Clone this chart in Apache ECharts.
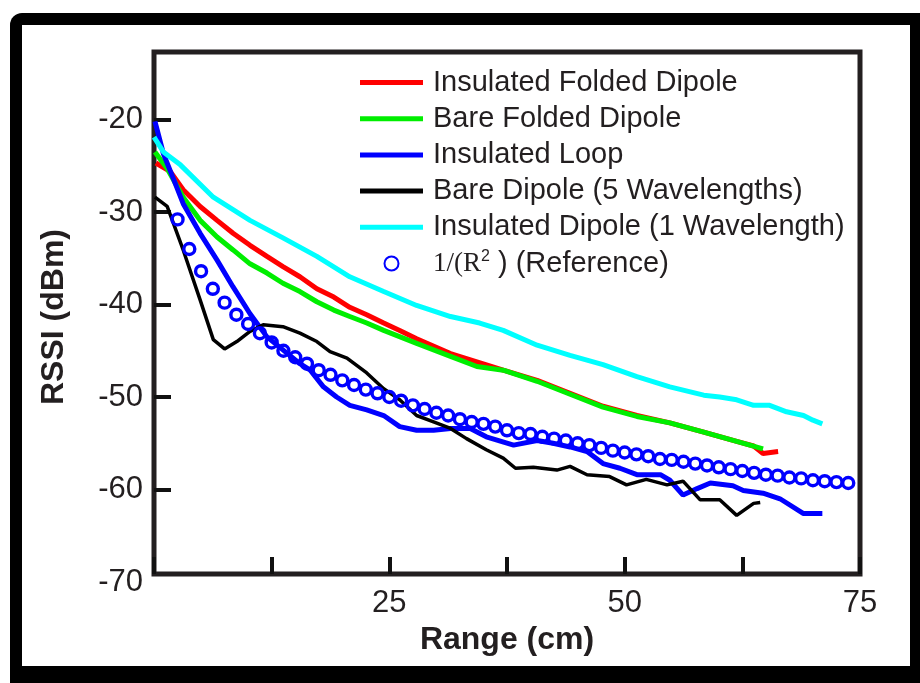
<!DOCTYPE html>
<html>
<head>
<meta charset="utf-8">
<script src="https://cdn.jsdelivr.net/npm/echarts@6/dist/echarts.min.js"></script>
<style>
html, body { margin: 0; padding: 0; background: #fff; }
#main { width: 920px; height: 683px; }
</style>
</head>
<body>
<div id="main"></div>
<script>
var names = ['Insulated Folded Dipole', 'Bare Folded Dipole', 'Insulated Loop',
	'Bare Dipole (5 Wavelengths)', 'Insulated Dipole (1 Wavelength)', '1/(R2) (Reference)'];

var insFolded = [[0.2,-24.7],[1.7,-25.6],[3.1,-27.6],[4.9,-29.4],[6.7,-30.9],[8.4,-32.3],[10.2,-33.6],
	[12.0,-34.8],[13.7,-35.9],[15.5,-37.0],[17.3,-38.3],[19.1,-39.2],[20.8,-40.3],[22.6,-41.1],
	[24.4,-42.0],[26.1,-42.8],[27.9,-43.7],[31.5,-45.3],[34.3,-46.2],[37.1,-47.1],[40.7,-48.2],
	[44.2,-49.6],[47.7,-51.0],[51.3,-52.0],[54.8,-52.8],[58.4,-53.8],[61.9,-54.8],[63.7,-55.3],
	[64.7,-56.1],[66.3,-55.9]];

var bareFolded = [[0.1,-23.5],[1.4,-25.3],[3.1,-28.4],[4.9,-30.9],[6.7,-32.7],[8.4,-34.1],[10.2,-35.6],
	[12.0,-36.6],[13.7,-37.7],[15.5,-38.6],[17.3,-39.7],[19.1,-40.6],[20.8,-41.3],[22.6,-42.0],
	[24.4,-42.8],[27.9,-44.2],[31.5,-45.6],[34.3,-46.7],[37.1,-47.1],[40.7,-48.3],[44.2,-49.7],
	[47.7,-51.1],[51.3,-52.1],[54.8,-52.8],[58.4,-53.8],[61.9,-54.8],[64.7,-55.6]];

var insLoop = [[0.1,-20.2],[1.0,-23.7],[2.1,-26.5],[3.1,-29.1],[4.9,-32.3],[6.7,-35.2],[8.4,-38.1],
	[10.2,-41.0],[12.0,-43.5],[13.7,-44.9],[15.5,-46.4],[16.6,-47.1],[18.0,-48.9],[19.4,-50.0],
	[20.8,-50.9],[22.6,-51.4],[24.4,-52.0],[26.1,-53.2],[27.9,-53.6],[29.7,-53.6],[31.5,-53.4],
	[33.6,-53.4],[35.3,-54.3],[38.2,-55.2],[40.7,-54.7],[42.4,-55.0],[44.2,-55.4],[46.0,-55.9],
	[47.7,-57.2],[49.5,-57.7],[51.3,-58.4],[53.8,-58.4],[54.8,-59.0],[56.2,-60.6],[57.7,-59.9],
	[59.1,-59.3],[61.5,-59.6],[62.6,-60.1],[64.7,-60.4],[66.5,-61.0],[69.0,-62.6],[71.0,-62.6]];

var bareDipole = [[0.1,-28.4],[1.4,-29.4],[3.1,-34.1],[4.9,-39.5],[6.3,-43.8],[7.5,-44.8],[8.8,-44.0],
	[10.2,-42.9],[11.6,-42.2],[13.7,-42.4],[15.5,-43.1],[17.3,-44.0],[18.7,-45.1],[20.5,-45.8],
	[22.6,-47.4],[24.4,-49.1],[26.1,-50.3],[27.9,-52.0],[29.7,-52.7],[31.5,-53.4],[33.2,-54.5],
	[35.3,-55.7],[37.1,-56.6],[38.4,-57.7],[40.3,-57.6],[42.8,-57.9],[44.2,-57.5],[46.0,-58.4],
	[48.4,-58.6],[50.2,-59.5],[52.3,-58.9],[54.5,-59.5],[56.2,-59.1],[58.0,-61.1],[60.1,-61.1],
	[61.9,-62.8],[63.7,-61.5],[64.4,-61.4]];

var insDipole = [[0,-21.9],[1.0,-23.5],[2.8,-24.9],[6.3,-28.4],[10.2,-30.9],[13.7,-32.8],[17.3,-34.8],
	[20.8,-37.0],[24.4,-38.6],[27.9,-40.1],[31.5,-41.3],[34.6,-42.0],[37.1,-42.8],[40.7,-44.4],
	[44.2,-45.5],[47.7,-46.5],[51.3,-47.8],[54.8,-48.9],[58.4,-49.8],[60.1,-50.0],[61.9,-50.3],
	[63.7,-50.9],[65.4,-50.9],[67.2,-51.6],[69.0,-52.0],[70.0,-52.5],[71.0,-52.9]];

var refX = [2.5,3.75,5,6.25,7.5,8.75,10,11.25,12.5,13.75,15,16.25,17.5,18.75,20,21.25,22.5,23.75,
	25,26.25,27.5,28.75,30,31.25,32.5,33.75,35,36.25,37.5,38.75,40,41.25,42.5,43.75,45,46.25,
	47.5,48.75,50,51.25,52.5,53.75,55,56.25,57.5,58.75,60,61.25,62.5,63.75,65,66.25,67.5,68.75,
	70,71.25,72.5,73.75];
var refY = [-30.8,-34.0,-36.4,-38.3,-39.8,-41.1,-42.1,-43.1,-44.1,-45.0,-45.7,-46.4,-47.1,-47.6,
	-48.2,-48.7,-49.2,-49.6,-50.0,-50.4,-50.9,-51.3,-51.7,-52.0,-52.4,-52.7,-52.9,-53.2,-53.6,
	-53.9,-54.0,-54.3,-54.5,-54.7,-55.0,-55.2,-55.5,-55.8,-56.0,-56.2,-56.4,-56.7,-56.8,-57.0,
	-57.2,-57.4,-57.6,-57.8,-58.0,-58.2,-58.4,-58.5,-58.7,-58.8,-59.0,-59.1,-59.2,-59.3];

var xTicks = [0, 12.5, 25, 37.5, 50, 62.5, 75];
var xLabels = [25, 50, 75];
var yTicks = [-60, -50, -40, -30, -20];
var yLabels = [-70, -60, -50, -40, -30, -20];

var ink = '#231f20';
var chart = echarts.init(document.getElementById('main'));

function lineSeries(name, data, color, width) {
	return {
		name: name,
		type: 'line',
		xAxisIndex: 0,
		yAxisIndex: 0,
		symbol: 'none',
		data: data,
		lineStyle: { color: color, width: width },
		itemStyle: { color: color },
		z: 3
	};
}

var option = {
	animation: false,
	backgroundColor: '#fff',
	textStyle: { fontFamily: 'Liberation Sans, Arial, sans-serif' },
	graphic: [
		{ type: 'rect', z: -20, silent: true,
			shape: { x: 10, y: 13, width: 910, height: 670, r: [12, 0, 0, 0] },
			style: { fill: '#000' } },
		{ type: 'rect', z: -19, silent: true,
			shape: { x: 22, y: 25, width: 888, height: 641 },
			style: { fill: '#fff' } }
	],
	grid: [
		{ left: 154, right: 60, top: 52, bottom: 101 },
		{ left: 154, right: 60, top: 52, bottom: 109, show: true,
			backgroundColor: 'transparent', borderColor: ink, borderWidth: 5 }
	],
	legend: {
		orient: 'vertical',
		left: 355,
		top: 63,
		itemWidth: 63,
		itemHeight: 14,
		itemGap: 7.2,
		data: names.map(function(n, i) {
			return i < 5 ? { name: n, icon: 'path://M0,0H63V5H0Z' } : { name: n, icon: 'circle' };
		}),
		textStyle: {
			fontSize: 29,
			color: ink,
			lineHeight: 29,
			padding: [0, 0, 0, 5],
			rich: {
				s: { fontFamily: 'Liberation Serif, Times New Roman, serif', fontSize: 27, color: ink },
				p: { fontSize: 16, color: ink, verticalAlign: 'top', lineHeight: 16 },
				n: { fontSize: 29, color: ink }
			}
		},
		formatter: function(name) {
			if (name === names[5]) return '{s|1/(R}{p|2}{n| ) (Reference)}';
			return name;
		}
	},
	xAxis: [
		{ gridIndex: 0, type: 'value', min: 0, max: 75, show: false },
		{
			gridIndex: 1, type: 'value', min: 0, max: 75, interval: 12.5,
			axisLine: { show: false },
			splitLine: { show: false },
			axisTick: { inside: true, length: 17, customValues: xTicks,
				lineStyle: { width: 4, color: '#111' } },
			axisLabel: { fontSize: 31, color: ink, margin: 14, customValues: xLabels },
			name: 'Range (cm)',
			nameLocation: 'middle',
			nameGap: 47,
			nameTextStyle: { fontSize: 32, fontWeight: 'bold', color: ink }
		}
	],
	yAxis: [
		{
			gridIndex: 0, type: 'value', min: -70, max: -12.7,
			axisLine: { show: false },
			splitLine: { show: false },
			axisTick: { inside: true, length: 17, customValues: yTicks,
				lineStyle: { width: 4, color: '#111' } },
			axisLabel: { fontSize: 31, color: ink, margin: 11, customValues: yLabels },
			name: 'RSSI (dBm)',
			nameLocation: 'middle',
			nameGap: 84,
			nameTextStyle: { fontSize: 32, fontWeight: 'bold', color: ink }
		},
		{ gridIndex: 1, type: 'value', min: -70, max: -12.7, show: false }
	],
	series: [
		lineSeries(names[0], insFolded, '#ff0000', 5),
		lineSeries(names[1], bareFolded, '#00ee00', 5),
		lineSeries(names[2], insLoop, '#0000ff', 5),
		lineSeries(names[3], bareDipole, '#000000', 3.5),
		lineSeries(names[4], insDipole, '#00ffff', 5),
		{
			name: names[5],
			type: 'scatter',
			xAxisIndex: 0,
			yAxisIndex: 0,
			symbol: 'circle',
			symbolSize: 11,
			z: 5,
			itemStyle: { color: 'rgba(255,255,255,0)', borderColor: '#0000ff', borderWidth: 3.4, opacity: 1 },
			data: refX.map(function(x, i) { return [x, refY[i]]; })
		}
	]
};

chart.setOption(option);
</script>
</body>
</html>
